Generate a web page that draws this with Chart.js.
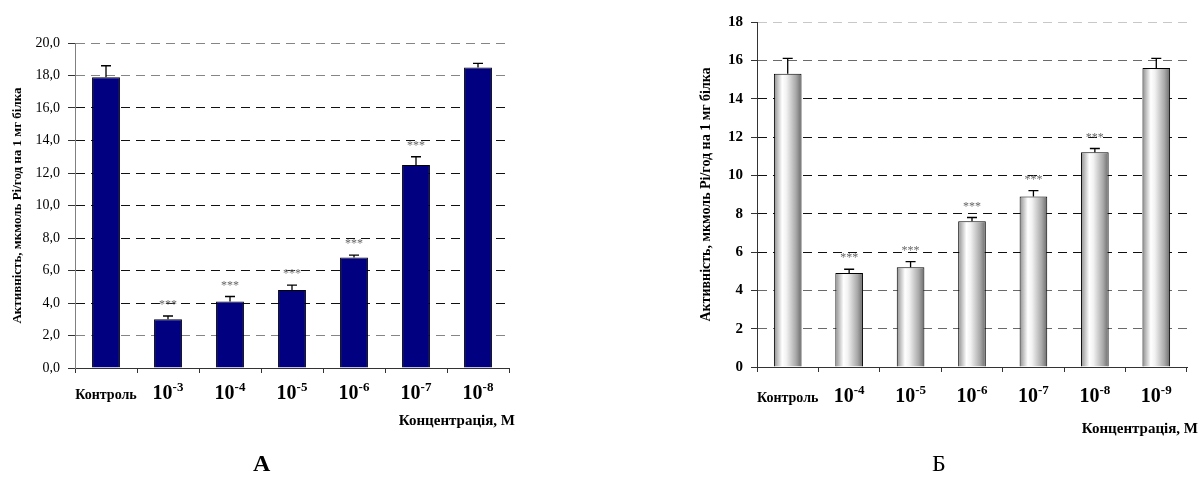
<!DOCTYPE html>
<html>
<head>
<meta charset="utf-8">
<script src="https://cdn.jsdelivr.net/npm/chart.js@4/dist/chart.umd.min.js"></script>
<style>
  body { margin: 0; background: #fff; width: 1199px; height: 477px; position: relative; overflow: hidden; font-family: 'Liberation Serif', serif; }
  #wrapA { position: absolute; left: 0; top: 0; width: 560px; height: 477px; }
  #wrapB { position: absolute; left: 620px; top: 0; width: 579px; height: 477px; }
  .panel { position: absolute; top: 451px; font-size: 24px; line-height: 24px; color: #000; }
</style>
</head>
<body>
<div id="wrapA"><canvas id="chartA" width="560" height="477"></canvas></div>
<div id="wrapB"><canvas id="chartB" width="579" height="477"></canvas></div>
<div class="panel" style="left:253px;font-weight:bold">А</div>
<div class="panel" style="left:932px">Б</div>
<script>
const yTitle = 'Активність, мкмоль Pi/год на 1 мг білка'
const xTitle = 'Концентрація, М'

// panel A
const labelsA = ['Контроль', '10^-3', '10^-4', '10^-5', '10^-6', '10^-7', '10^-8']
const valuesA = [17.9, 3.0, 4.1, 4.8, 6.8, 12.5, 18.5]
const errorsA = [0.7, 0.2, 0.3, 0.3, 0.15, 0.5, 0.25]
const starsA = ['', '***', '***', '***', '***', '***', '']

// panel B
const labelsB = ['Контроль', '10^-4', '10^-5', '10^-6', '10^-7', '10^-8', '10^-9']
const valuesB = [15.3, 4.9, 5.2, 7.6, 8.9, 11.2, 15.6]
const errorsB = [0.8, 0.2, 0.3, 0.2, 0.3, 0.2, 0.5]
const starsB = ['', '***', '***', '***', '***', '***', '']

const serif = 'Liberation Serif'

// error bars, significance stars, the 10^-n labels and the x title
const annotPlugin = {
  id: 'annot',
  afterDatasetsDraw(chart, args, opts) {
    const ctx = chart.ctx
    const meta = chart.getDatasetMeta(0)
    const y = chart.scales.y
    const x = chart.scales.x
    const values = chart.data.datasets[0].data
    ctx.save()
    meta.data.forEach((bar, i) => {
      const top = y.getPixelForValue(values[i] + opts.errors[i])
      ctx.strokeStyle = '#000'
      ctx.lineWidth = 1.3
      ctx.beginPath()
      ctx.moveTo(bar.x, bar.y)
      ctx.lineTo(bar.x, top)
      ctx.moveTo(bar.x - 5, top)
      ctx.lineTo(bar.x + 5, top)
      ctx.stroke()
      if (opts.stars[i]) {
        ctx.fillStyle = '#666'
        ctx.font = '12px "' + serif + '"'
        ctx.textAlign = 'center'
        ctx.textBaseline = 'middle'
        ctx.fillText(opts.stars[i], bar.x, top - 11)
      }
    })

    ctx.fillStyle = '#000'
    ctx.textBaseline = 'alphabetic'
    chart.data.labels.forEach((lab, i) => {
      const cx = x.getPixelForValue(i)
      const base = x.top + opts.labelOffset
      const parts = lab.split('^')
      if (parts.length === 1) {
        ctx.font = 'bold 14px "' + serif + '"'
        ctx.textAlign = 'center'
        ctx.fillText(lab, cx, base)
        return
      }
      ctx.font = 'bold 20px "' + serif + '"'
      const w1 = ctx.measureText(parts[0]).width
      ctx.font = 'bold 13px "' + serif + '"'
      const w2 = ctx.measureText(parts[1]).width
      const left = cx - (w1 + w2) / 2
      ctx.textAlign = 'left'
      ctx.font = 'bold 20px "' + serif + '"'
      ctx.fillText(parts[0], left, base)
      ctx.font = 'bold 13px "' + serif + '"'
      ctx.fillText(parts[1], left + w1, base - 8)
    })

    ctx.font = 'bold 15px "' + serif + '"'
    ctx.textAlign = 'right'
    ctx.textBaseline = 'middle'
    ctx.fillText(xTitle, x.right + opts.titleShift, x.top + opts.titleOffset)
    ctx.restore()
  }
}

function gradientFill(c) {
  const chart = c.chart
  const xs = chart.scales.x
  if (!chart.chartArea || !xs) return '#dddddd'
  const cx = xs.getPixelForValue(c.dataIndex)
  const half = (xs.width / chart.data.labels.length) * 0.45 / 2
  const g = chart.ctx.createLinearGradient(cx - half, 0, cx + half, 0)
  g.addColorStop(0, '#8e8e8e')
  g.addColorStop(0.3, '#ffffff')
  g.addColorStop(0.45, '#f2f2f2')
  g.addColorStop(0.8, '#a8a8a8')
  g.addColorStop(1, '#6a6a6a')
  return g
}

function makeConfig(p) {
  return {
    type: 'bar',
    data: {
      labels: p.labels,
      datasets: [{
        data: p.values,
        backgroundColor: p.fill,
        borderColor: '#000',
        borderWidth: 1,
        categoryPercentage: 1,
        barPercentage: 0.45,
      }],
    },
    options: {
      responsive: false,
      animation: false,
      layout: { padding: p.padding },
      plugins: {
        legend: { display: false },
        tooltip: { enabled: false },
        annot: {
          errors: p.errors,
          stars: p.stars,
          labelOffset: p.labelOffset,
          titleOffset: p.titleOffset,
          titleShift: p.titleShift,
        },
      },
      scales: {
        x: {
          offset: true,
          ticks: { display: false },
          grid: { display: true, drawOnChartArea: false, offset: true, tickLength: 5, color: '#333', tickColor: '#333' },
          border: { display: true, color: '#333', width: 1 },
          afterFit: (s) => { s.height = p.xHeight },
        },
        y: {
          min: 0,
          max: p.max,
          ticks: {
            stepSize: 2,
            padding: 8,
            color: '#000',
            font: p.tickFont,
            callback: p.tickFmt,
          },
          grid: {
            color: p.gridColor,
            tickColor: '#333',
            tickLength: p.tickLength,
            tickBorderDash: [],
          },
          border: { display: true, color: p.axisColor, dash: [9, 6] },
          title: {
            display: true,
            text: yTitle,
            color: '#000',
            font: { family: serif, size: p.yTitleSize, weight: 'bold' },
            padding: { top: p.yTitlePad, bottom: 0 },
          },
          afterFit: (s) => { s.width = p.yWidth },
        },
      },
    },
    plugins: [annotPlugin],
  }
}

new Chart(document.getElementById('chartA'), makeConfig({
  labels: labelsA,
  values: valuesA,
  errors: errorsA,
  stars: starsA,
  fill: '#000080',
  max: 20,
  padding: { left: 0, right: 51, top: 43, bottom: 0 },
  xHeight: 109,
  yWidth: 75,
  labelOffset: 31,
  titleOffset: 53,
  titleShift: 6,
  yTitleSize: 13,
  yTitlePad: 10,
  tickLength: 7,
  axisColor: '#808080',
  tickFont: { family: serif, size: 14 },
  tickFmt: (v) => v.toFixed(1).replace('.', ','),
  gridColor: (c) => [20, 18, 2].includes(c.tick && c.tick.value) ? '#858585' : '#111',
}))

new Chart(document.getElementById('chartB'), makeConfig({
  labels: labelsB,
  values: valuesB,
  errors: errorsB,
  stars: starsB,
  fill: gradientFill,
  max: 18,
  padding: { left: 0, right: 12, top: 22, bottom: 0 },
  xHeight: 110,
  yWidth: 137,
  labelOffset: 35,
  titleOffset: 62,
  titleShift: 11,
  yTitleSize: 14,
  yTitlePad: 78,
  tickLength: 6,
  axisColor: '#333',
  tickFont: { family: serif, size: 15, weight: 'bold' },
  tickFmt: (v) => String(v),
  gridColor: (c) => {
    const v = c.tick && c.tick.value
    if (v === 18) return '#c8c8c8'
    if (v === 16 || v === 4 || v === 2) return '#6a6a6a'
    return '#111'
  },
}))
</script>
</body>
</html>
